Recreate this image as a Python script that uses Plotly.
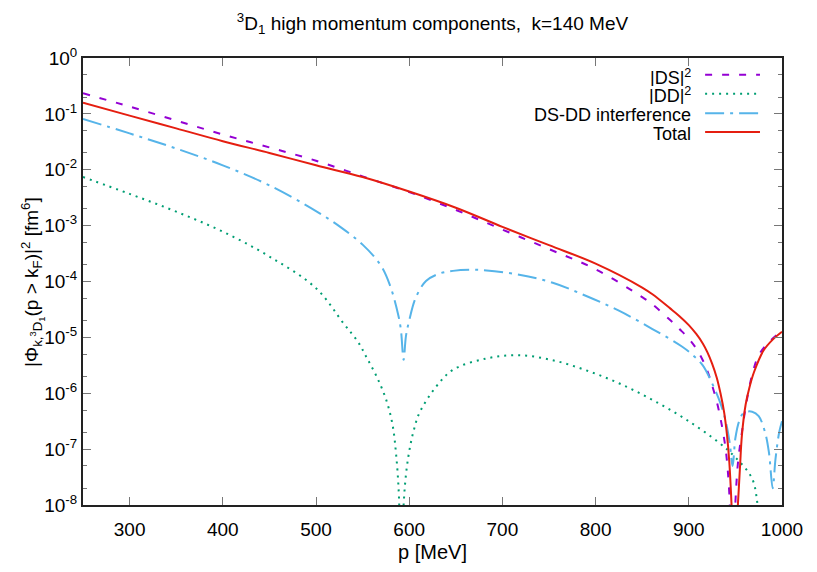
import plotly.graph_objects as go

# values (p in MeV, |Phi|^2 in fm^6)
p_ds = [250, 300, 350, 400, 450, 500, 550, 600, 650, 700, 750, 800, 850, 861, 880,
        890, 900, 908, 915, 920, 925, 930, 934, 937, 940, 943.5, 946.5, 950, 953,
        957, 962, 969, 975, 985, 1000]
ds = [2.34e-1, 1.35e-1, 7.6e-2, 4.27e-2, 2.51e-2, 1.45e-2, 7.6e-3, 3.98e-3, 1.91e-3,
      8.5e-4, 3.8e-4, 1.66e-4, 5.25e-5, 3.9e-5, 2.04e-5, 1.41e-5, 9.5e-6, 6.3e-6,
      3.9e-6, 2.5e-6, 1.38e-6, 7.1e-7, 3.55e-7, 1.9e-7, 8.7e-8, 1.58e-8, 3.2e-10,
      1.12e-8, 6.3e-8, 2.0e-7, 7.1e-7, 2.5e-6, 4.8e-6, 7.9e-6, 1.32e-5]

p_dd = [250, 300, 350, 400, 450, 500, 530, 545, 554, 565, 575, 582, 586, 589, 591,
        594, 597, 601, 605, 611, 629, 647, 683, 718, 754, 790, 825, 861, 897, 932,
        950, 968, 975, 985, 1000]
dd = [7.4e-3, 3.7e-3, 1.78e-3, 7.8e-4, 2.8e-4, 7.6e-5, 1.74e-5, 8.3e-6, 4.47e-6,
      2.0e-6, 7.9e-7, 2.8e-7, 7.9e-8, 1.41e-8, 3.2e-10, 1.0e-8, 4.1e-8, 1.12e-7,
      2.2e-7, 4.47e-7, 1.32e-6, 2.63e-6, 4.2e-6, 4.8e-6, 3.9e-6, 2.57e-6, 1.51e-6,
      7.6e-7, 3.4e-7, 1.32e-7, 7.1e-8, 2.95e-8, 7.9e-9, 1.58e-9, 1.0e-9]

p_int = [250, 300, 350, 400, 450, 500, 526, 550, 569, 579, 588, 591, 594, 596.5, 600,
         607, 618, 632, 647, 665, 683, 718, 754, 790, 825, 861, 893, 905, 915, 925,
         934, 940, 944, 947, 950, 954, 959, 968, 975, 982, 986, 990, 993, 997, 1000]
interf = [8.1e-2, 4.47e-2, 2.4e-2, 1.2e-2, 5.25e-3, 1.82e-3, 9.5e-4, 4.57e-4, 2.0e-4,
          8.9e-5, 2.63e-5, 1.41e-5, 3.98e-6, 1.05e-5, 2.0e-5, 5.1e-5, 1.02e-4, 1.38e-4,
          1.55e-4, 1.62e-4, 1.58e-4, 1.32e-4, 9.5e-5, 5.5e-5, 3.0e-5, 1.41e-5, 6.8e-6,
          4.7e-6, 3.16e-6, 1.51e-6, 6.6e-7, 2.95e-7, 1.26e-7, 5.0e-8, 1.58e-7, 3.16e-7,
          4.47e-7, 4.68e-7, 3.9e-7, 1.95e-7, 8.7e-8, 2.0e-8, 6.6e-8, 2.0e-7, 3.16e-7]

p_tot = [250, 300, 350, 400, 450, 500, 550, 600, 650, 700, 750, 800, 850, 861, 880,
         890, 900, 908, 915, 920, 925, 930, 934, 938, 941, 943.5, 946, 949, 952.5, 955,
         957, 961, 965, 970, 980, 990, 1000]
total = [1.58e-1, 9.3e-2, 5.5e-2, 3.24e-2, 2.0e-2, 1.2e-2, 7.4e-3, 4.07e-3, 2.09e-3,
         9.5e-4, 4.47e-4, 2.09e-4, 7.8e-5, 5.9e-5, 3.3e-5, 2.4e-5, 1.66e-5, 1.15e-5,
         7.8e-6, 5.4e-6, 3.4e-6, 1.9e-6, 1.0e-6, 4.47e-7, 1.78e-7, 5.75e-8, 8.9e-9,
         3.2e-10, 8.9e-9, 5.0e-8, 1.78e-7, 6.3e-7, 1.26e-6, 2.4e-6, 5.75e-6, 9.1e-6,
         1.26e-5]

names = ["|DS|<sup>2</sup>", "|DD|<sup>2</sup>", "DS-DD interference", "Total"]
colors = ["#9400D3", "#009E73", "#56B4E9", "#E51E10"]
dashes = ["7px,10px", "2px,5px", "19px,6px,3px,6px", "solid"]

ytick_vals = [1e-8, 1e-7, 1e-6, 1e-5, 1e-4, 1e-3, 1e-2, 1e-1, 1]
ytick_text = ["10<sup>-8</sup>", "10<sup>-7</sup>", "10<sup>-6</sup>", "10<sup>-5</sup>",
              "10<sup>-4</sup>", "10<sup>-3</sup>", "10<sup>-2</sup>", "10<sup>-1</sup>",
              "10<sup>0</sup>"]

FONT = "Liberation Sans, Arial, sans-serif"

fig = go.Figure()
series = [(p_ds, ds), (p_dd, dd), (p_int, interf), (p_tot, total)]
for (px, py), name, col, dsh in zip(series, names, colors, dashes):
    fig.add_trace(go.Scatter(x=px, y=py, mode="lines", name=name, showlegend=False,
                             line=dict(color=col, width=2, dash=dsh,
                                       shape="spline", smoothing=1.0)))

# gnuplot-style key: text right-aligned, sample line to the right
key_y = [0.9623, 0.9202, 0.8765, 0.8344]
for name, col, dsh, ky in zip(names, colors, dashes, key_y):
    fig.add_annotation(x=0.8727, y=ky - 0.004, xref="paper", yref="paper", text=name,
                       showarrow=False, xanchor="right", yanchor="middle", height=18,
                       valign="middle", font=dict(size=18, color="black"))
    fig.add_shape(type="line", xref="paper", yref="paper", x0=0.890, x1=0.9685,
                  y0=ky, y1=ky, line=dict(color=col, width=2, dash=dsh))

fig.add_annotation(x=-0.096, y=0.5, xref="paper", yref="paper", textangle=-90,
                   text="|Φ<sub>k,<sup>3</sup>D<sub>1</sub></sub>(p > k<sub>F</sub>)|<sup>2</sup> [fm<sup>6</sup>]",
                   showarrow=False, font=dict(size=19, color="black"))

fig.update_layout(
    width=817, height=572,
    margin={'l': 83, 'r': 35, 't': 58, 'b': 63},
    plot_bgcolor="white", paper_bgcolor="white",
    font=dict(family=FONT, size=19, color="black"),
    title=dict(text="<sup>3</sup>D<sub>1</sub> high momentum components,  k=140 MeV",
               x=0.5, xref="paper", y=0.96, yanchor="middle", font=dict(size=19)),
)
fig.update_xaxes(range=[250, 1000], tickvals=[300, 400, 500, 600, 700, 800, 900, 1000],
                 ticks="inside", ticklen=8, tickcolor="#777", tickwidth=1,
                 ticklabelstandoff=6,
                 showline=True, linecolor="#222", linewidth=2, mirror="ticks",
                 showgrid=False, zeroline=False,
                 title=dict(text="p [MeV]", standoff=6, font=dict(size=20)))
fig.update_yaxes(type="log", range=[-8, 0], tickvals=ytick_vals, ticktext=ytick_text,
                 ticks="inside", ticklen=8, tickcolor="#777", tickwidth=1,
                 minor=dict(ticks="inside", ticklen=4, tickcolor="#777", dtick="D2"),
                 showline=True, linecolor="#222", linewidth=2, mirror="ticks",
                 showgrid=False, zeroline=False)

fig.write_html("out.html", config={"displayModeBar": False},
               post_script="document.body.style.margin='0';")
